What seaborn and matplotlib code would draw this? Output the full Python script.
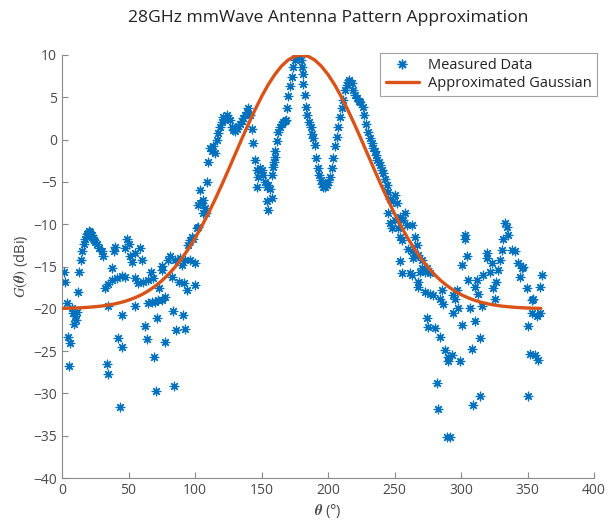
import matplotlib
matplotlib.use("Agg")
import matplotlib.pyplot as plt
import seaborn as sns
import pandas as pd
from matplotlib.lines import Line2D

meas_theta = [
    1.5, 2.3, 3.5, 4.8, 5.3, 6.0, 7.3, 8.5, 9.0, 9.8, 10.3, 11.0, 12.3, 12.8,
    14.3, 15.3, 16.8, 17.5, 18.5, 19.0, 19.8, 20.5, 21.1, 22.3, 23.0, 24.3, 25.0,
    26.1, 27.8, 29.8, 31.1, 32.3, 33.6, 34.3, 34.8, 34.8, 37.3, 37.3, 39.3, 40.0,
    41.1, 42.4, 43.6, 44.9, 44.9, 45.4, 47.4, 47.4, 48.6, 50.0, 51.1, 52.4, 54.9,
    54.9, 54.9, 57.4, 58.6, 60.4, 61.1, 62.4, 63.7, 64.9, 64.9, 66.9, 67.4, 68.7,
    69.2, 69.9, 70.4, 71.2, 72.4, 73.1, 74.9, 74.9, 75.5, 77.4, 77.4, 79.9, 81.2,
    82.4, 83.7, 84.5, 84.9, 85.5, 87.9, 88.7, 89.9, 91.2, 92.0, 92.5, 92.5, 93.7,
    95.0, 96.2, 96.2, 97.5, 98.7, 100.0, 100.0, 101.2, 102.0, 102.5,
    103.7, 103.7, 105.0, 106.2, 106.2, 107.5, 108.2, 108.7, 110.0, 111.2, 112.5,
    113.7, 115.0, 116.2, 117.5, 118.8, 120.0, 121.3, 122.5, 123.8, 125.0, 126.3,
    127.5, 128.8, 130.0, 131.3, 132.5, 133.8, 135.0, 136.3, 137.5, 138.8, 140.0,
    141.3, 142.6, 143.8, 145.1, 146.3, 146.3, 147.6, 148.8, 150.1, 151.3, 152.5,
    153.8, 153.8, 155.1, 155.1, 156.3, 157.6, 157.7, 158.8, 159.4, 160.1, 160.2,
    161.4, 162.7, 163.9, 165.1, 166.4, 167.5, 168.4, 169.4, 170.1, 171.4, 172.6,
    173.9, 175.2, 176.4, 177.5, 178.4, 179.5, 180.2, 181.0, 181.5, 182.7, 183.5,
    184.5, 186.0, 187.0, 187.7, 189.0, 190.2, 191.0, 192.2, 193.5, 194.5, 195.2,
    196.5, 197.8, 199.0, 200.3, 201.5, 202.8, 204.0, 205.3, 206.5, 207.8, 209.0,
    210.3, 211.5, 212.7, 214.0, 215.0, 216.0, 217.7, 219.0, 220.3, 221.5, 223.0,
    224.0, 226.0, 227.0, 228.5, 230.3, 231.5, 232.8, 234.0, 235.0, 236.0, 237.0,
    238.0, 239.0, 240.3, 241.5, 242.8, 244.6, 245.3, 246.6, 245.3, 246.6, 247.8,
    249.0, 250.3, 250.3, 251.6, 252.8, 254.1, 254.1, 254.1, 255.3, 255.3, 256.6,
    257.8, 259.1, 260.3, 261.6, 262.9, 263.0, 263.0, 264.1, 265.4, 265.5, 266.6,
    267.9, 268.0, 268.0, 269.1, 270.4, 270.5, 273.0, 273.0, 274.1, 274.2, 275.5,
    276.7, 276.7, 279.2, 280.5, 281.7, 283.0, 284.2, 284.3, 285.5, 286.8, 288.0,
    289.3, 290.5, 290.5, 291.8, 293.0, 294.3, 294.3, 295.5, 296.8, 298.0, 299.3,
    300.5, 300.5, 303.0, 303.0, 304.3, 305.6, 306.8, 308.1, 308.8, 310.6, 310.6,
    311.8, 313.1, 314.3, 314.3, 315.6, 316.8, 319.3, 319.8, 321.8, 323.1, 324.3,
    325.6, 326.4, 328.1, 329.4, 330.6, 331.9, 333.1, 334.4, 335.6, 338.1, 340.6,
    343.1, 344.4, 345.6, 346.9, 349.4, 350.7, 350.7, 351.9, 353.2, 353.2, 354.4,
    355.7, 356.9, 358.2, 359.4, 359.4, 360.7,
]
meas_gain = [
    -15.7, -16.8, -19.3, -23.3, -26.8, -24.0, -19.9, -20.5, -21.8, -20.9, -21.3, -20.4, -18.0, -15.6,
    -14.2, -13.2, -12.3, -11.8, -11.5, -11.2, -11.0, -10.8, -10.9, -11.3, -11.6, -11.9, -12.1,
    -12.3, -12.85, -13.2, -13.8, -17.5, -26.5, -27.7, -17.1, -19.7, -16.6, -15.2, -13.2, -12.7,
    -16.4, -23.5, -31.6, -16.1, -24.5, -20.7, -16.2, -12.8, -11.7, -12.3, -13.8, -14.5, -13.4,
    -16.4, -19.7, -16.9, -12.8, -14.2, -16.8, -22.0, -23.6, -16.6, -19.3, -15.6, -19.2, -16.4,
    -25.7, -19.2, -29.7, -21.1, -19.0, -17.5, -14.9, -19.0, -15.4, -18.6, -23.9, -14.2, -13.8,
    -16.2, -20.3, -29.1, -14.2, -22.5, -16.8, -14.0, -14.8, -20.7, -16.9, -22.4, -14.2, -17.8,
    -12.5, -14.2, -11.9, -11.5, -11.7, -14.6, -17.2, -10.5, -10.3, -7.7,
    -7.5, -5.96, -7.5, -7.1, -8.7, -8.1, -8.7, -4.97, -2.6, -1.0, -1.4,
    -0.8, -1.6, 0.0, 0.74, 1.5, 2.1, 2.7, 2.4, 2.9, 2.6, 2.3,
    1.5, 1.1, 1.0, 1.3, 1.6, 1.9, 2.2, 2.5, 2.9, 3.3, 3.7,
    2.9, 1.2, -0.4, -2.4, -3.6, -5.6, -4.4, -3.4, -3.6, -4.2, -5.0,
    -5.6, -7.3, -8.3, -5.4, -5.8, -4.2, -6.9, -3.2, -2.6, -2.0, -1.4,
    -0.2, 0.86, 1.5, 1.8, 2.1, 2.2, 2.3, 3.7, 5.1, 6.3, 7.4,
    8.6, 9.4, 10.0, 9.9, 10.0, 9.4, 8.6, 7.8, 6.6, 5.3, 3.9,
    2.9, 2.1, 1.5, 0.7, 0.15, -0.6, -2.2, -3.4, -4.2, -4.8, -5.2,
    -5.6, -5.6, -5.4, -5.0, -4.4, -3.4, -2.2, -0.8, 0.35, 1.5, 2.7,
    3.7, 4.7, 5.9, 6.5, 6.8, 7.0, 6.7, 5.9, 5.3, 4.9, 4.6,
    4.5, 3.9, 2.9, 1.9, 0.9, 0.15, -0.4, -1.0, -1.4, -1.8, -2.4,
    -2.7, -3.0, -3.6, -4.0, -4.6, -5.4, -6.2, -7.0, -8.7, -9.9, -10.5,
    -7.3, -6.5, -9.5, -7.5, -10.5, -9.1, -11.5, -14.4, -11.9, -15.8, -9.5,
    -8.7, -10.1, -12.9, -15.8, -13.2, -10.1, -16.0, -14.0, -11.5, -13.8, -12.5,
    -13.6, -16.8, -17.4, -15.6, -14.2, -15.2, -15.6, -18.0, -15.2, -21.1, -22.1,
    -15.8, -18.2, -18.4, -22.3, -28.8, -31.8, -18.9, -23.3, -17.8, -19.4, -24.9,
    -35.1, -25.7, -26.2, -35.2, -25.5, -18.4, -20.5, -18.9, -17.8, -19.9, -26.2,
    -14.8, -21.9, -11.3, -11.8, -13.8, -16.6, -19.9, -24.7, -31.4, -17.4, -21.5,
    -16.6, -18.2, -23.5, -30.3, -19.7, -16.0, -13.4, -14.0, -15.6, -14.6, -17.6,
    -18.8, -16.8, -15.4, -14.2, -13.0, -11.7, -9.9, -10.3, -11.3, -13.0, -13.2,
    -14.6, -16.2, -15.2, -15.0, -17.6, -22.0, -30.3, -25.3, -19.0, -20.5, -18.8,
    -25.5, -20.9, -26.0, -20.5, -17.4, -16.0,
]

# ---- approximated Gaussian (values every 5 degrees) ----
fit_theta = [0, 5, 10, 15, 20, 25, 30, 35, 40, 45, 50, 55, 60, 65, 70, 75, 80, 85, 90,
             95, 100, 105, 110, 115, 120, 125, 130, 135, 140, 145, 150, 155, 160, 165,
             170, 175, 180, 185, 190, 195, 200, 205, 210, 215, 220, 225, 230, 235, 240,
             245, 250, 255, 260, 265, 270, 275, 280, 285, 290, 295, 300, 305, 310, 315,
             320, 325, 330, 335, 340, 345, 350, 355, 360]
fit_gain = [-19.95, -19.93, -19.91, -19.87, -19.82, -19.75, -19.67, -19.55, -19.41,
            -19.22, -18.98, -18.68, -18.32, -17.87, -17.33, -16.69, -15.94, -15.07,
            -14.06, -12.93, -11.66, -10.26, -8.74, -7.11, -5.40, -3.62, -1.80, 0.01,
            1.78, 3.48, 5.06, 6.48, 7.69, 8.68, 9.41, 9.85, 10.0, 9.85, 9.41, 8.68,
            7.69, 6.48, 5.06, 3.48, 1.78, 0.01, -1.80, -3.62, -5.40, -7.11, -8.74,
            -10.26, -11.66, -12.93, -14.06, -15.07, -15.94, -16.69, -17.33, -17.87,
            -18.32, -18.68, -18.98, -19.22, -19.41, -19.55, -19.67, -19.75, -19.82,
            -19.87, -19.91, -19.93, -19.95]

title_text = "28GHz mmWave Antenna Pattern Approximation"
x_ticks = [0, 50, 100, 150, 200, 250, 300, 350, 400]
y_ticks = [10, 5, 0, -5, -10, -15, -20, -25, -30, -35, -40]

BLUE = "#0072BD"
ORANGE = "#D95319"
AXC = "#8a8a8a"
TXC = "#4a4a4a"

sns.set_style("white")
plt.rcParams["font.family"] = ["Open Sans", "DejaVu Sans"]
plt.rcParams["mathtext.fontset"] = "stix"

fig = plt.figure(figsize=(6.07, 5.23), dpi=100)
ax = fig.add_axes([62 / 607, 45 / 523, 532 / 607, 423 / 523])

df_m = pd.DataFrame({"theta": meas_theta, "gain": meas_gain})
df_f = pd.DataFrame({"theta": fit_theta, "gain": fit_gain})

ast = (8, 2, 0)
sns.scatterplot(data=df_m, x="theta", y="gain", ax=ax, marker=ast, s=38,
                color=BLUE, linewidth=0.9, legend=False, zorder=2)
sns.lineplot(data=df_f, x="theta", y="gain", ax=ax, color=ORANGE, linewidth=2.4,
             legend=False, zorder=3)

ax.set_xlim(0, 400)
ax.set_ylim(-40, 10)
ax.set_xticks(x_ticks)
ax.set_yticks(y_ticks)
for s in ["top", "right"]:
    ax.spines[s].set_visible(False)
for s in ["left", "bottom"]:
    ax.spines[s].set_color(AXC)
    ax.spines[s].set_linewidth(0.8)
ax.tick_params(direction="in", length=4, width=0.8, color=AXC, labelcolor=TXC,
               labelsize=10, left=True, bottom=True)

ax.set_xlabel(r"$\boldsymbol{\theta}$ (°)", fontsize=10.5, color=TXC, labelpad=3)
ax.set_ylabel(r"$G(\boldsymbol{\theta})$ (dBi)", fontsize=10.5, color=TXC, labelpad=2)
ax.set_title(title_text, fontsize=12.6, color="#222222", pad=24)

handles = [
    Line2D([0], [0], marker=ast, linestyle="none", color=BLUE, markersize=7,
           markeredgewidth=1.0),
    Line2D([0], [0], color=ORANGE, linewidth=2.4),
]
leg = ax.legend(handles, ["Measured Data", "Approximated Gaussian"],
                loc="upper right", bbox_to_anchor=(1.005, 1.005), fontsize=10.5,
                frameon=True, fancybox=False, edgecolor=AXC, handlelength=2.3,
                borderpad=0.35, labelspacing=0.2, handletextpad=0.6,
                borderaxespad=0.0)
leg.get_frame().set_linewidth(0.8)
for t in leg.get_texts():
    t.set_color("#222222")

fig.savefig("out.png", dpi=100)
